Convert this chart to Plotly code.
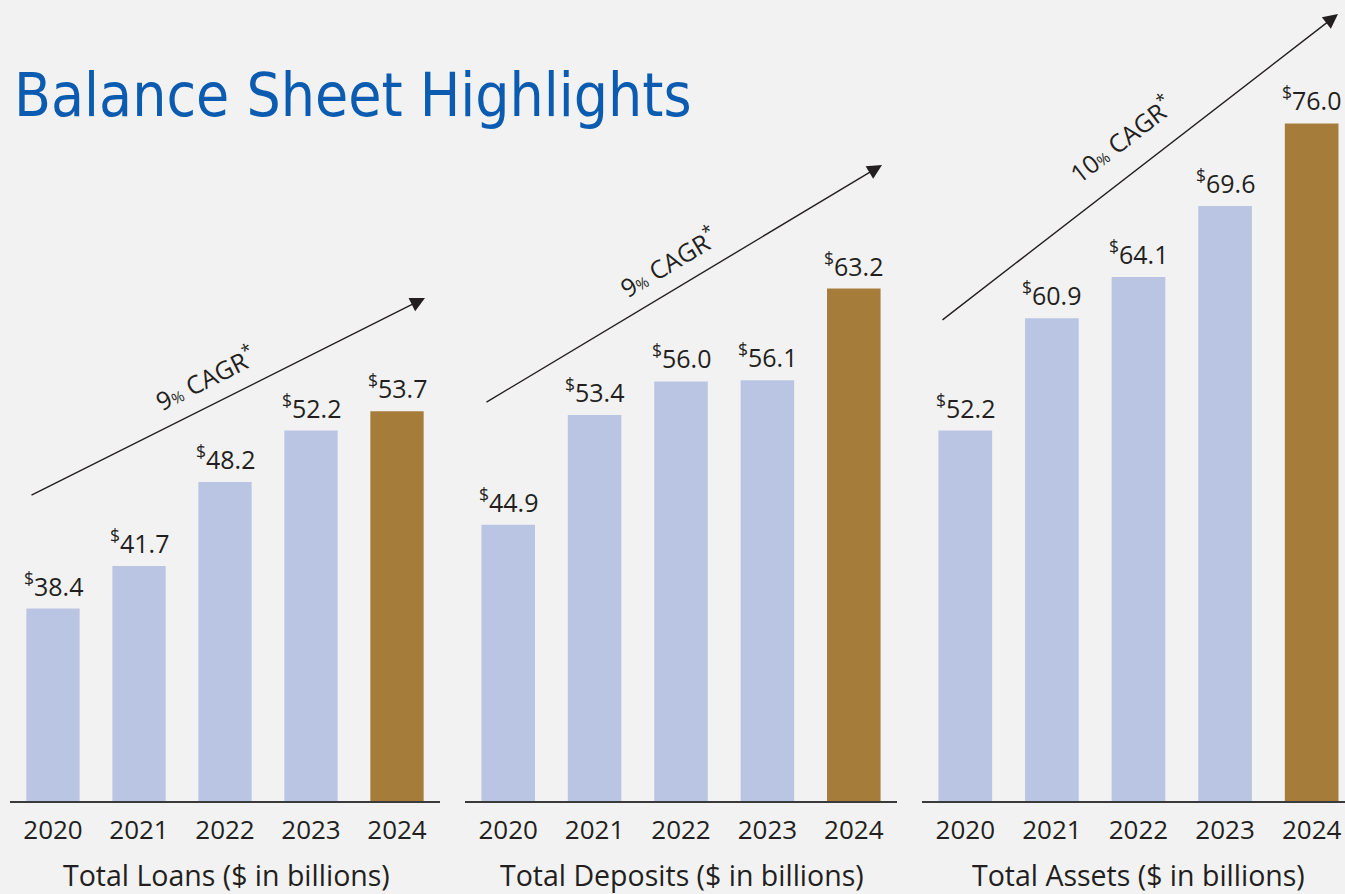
import plotly.graph_objects as go

# ---- data ----
years = ["2020", "2021", "2022", "2023", "2024"]
loans = [38.4, 41.7, 48.2, 52.2, 53.7]
deposits = [44.9, 53.4, 56.0, 56.1, 63.2]
assets = [52.2, 60.9, 64.1, 69.6, 76.0]
panel_titles = ["Total Loans ($ in billions)", "Total Deposits ($ in billions)", "Total Assets ($ in billions)"]
cagr_labels = ["9", "9", "10"]
title_text = "Balance Sheet Highlights"

W, H = 1345, 894
MB = 93
PH = H - MB
BG = "#f2f2f2"
LAV = "#bac5e3"
GOLD = "#a67c3b"
TXT = "#231f20"
BLUE = "#0b5cb0"
FONT = "'Open Sans', Lato, sans-serif"

def px(x):
    return x / W

def py(y):
    return (PH - y) / PH

series = [loans, deposits, assets]
domains = [(10, 440), (465, 897), (922, 1345)]
xranges = [[-0.5, 4.5], [-0.5, 4.5], [-0.5, 4.385]]
sub_centers = [226, 682, 1138]
colors = [LAV, LAV, LAV, LAV, GOLD]

fig = go.Figure()
annotations = []
for i, vals in enumerate(series):
    xa = "x" if i == 0 else f"x{i+1}"
    fig.add_trace(go.Bar(x=years, y=vals, xaxis=xa, yaxis="y",
                         marker=dict(color=colors, line=dict(width=0)),
                         hoverinfo="skip", showlegend=False))
    for k, v in enumerate(vals):
        annotations.append(dict(x=k, y=v, xref=xa, yref="y",
                                text=f"<sup>$</sup>{v:.1f}", showarrow=False,
                                xanchor="center", yanchor="bottom", yshift=4,
                                font=dict(family=FONT, size=25, color=TXT)))
    annotations.append(dict(x=px(sub_centers[i]), y=py(875),
                            xref="paper", yref="paper", text=panel_titles[i],
                            showarrow=False, xanchor="center", yanchor="middle",
                            font=dict(family=FONT, size=28.5, color=TXT)))

# arrows (pixel positions of start/end)
arrows = [((30, 496), (425, 298)), ((485, 403), (882, 165)), ((941, 321), (1338, 14))]
labels_pos = [(205, 377, -26.6), (668, 261, -30.9), (1121, 139, -37.7)]
for (s, e), (lx, ly, ang), c in zip(arrows, labels_pos, cagr_labels):
    annotations.append(dict(x=px(e[0]), y=py(e[1]), xref="paper", yref="paper",
                            ax=s[0] - e[0], ay=s[1] - e[1], text="", showarrow=True,
                            arrowhead=2, arrowsize=2.1, arrowwidth=1.4, arrowcolor=TXT))
    annotations.append(dict(x=px(lx), y=py(ly), xref="paper", yref="paper",
                            text=f"{c}<span style='font-size:15px;color:{TXT}'>%</span> CAGR<sup>*</sup>",
                            textangle=ang, showarrow=False,
                            xanchor="center", yanchor="middle",
                            font=dict(family=FONT, size=25, color=TXT)))

annotations.append(dict(x=px(12), y=py(95), xref="paper", yref="paper",
                        text=title_text, showarrow=False, xanchor="left", yanchor="middle",
                        font=dict(family="'Liberation Sans Narrow', 'DejaVu Sans Condensed', sans-serif",
                                  size=60, color=BLUE)))

layout = dict(
    width=W, height=H,
    paper_bgcolor=BG, plot_bgcolor=BG,
    margin=dict(l=0, r=0, t=0, b=MB),
    bargap=0.38,
    yaxis=dict(range=[23.48, 23.48 + PH / 12.9], visible=False, fixedrange=True),
    annotations=annotations,
)
for i in range(3):
    d0, d1 = domains[i]
    key = "xaxis" if i == 0 else f"xaxis{i+1}"
    layout[key] = dict(domain=[px(d0), px(d1)], type="category", range=xranges[i],
                       anchor="y", showline=True, linecolor="#3a3a3a", linewidth=1.5,
                       showgrid=False, zeroline=False, ticks="",
                       tickfont=dict(family=FONT, size=26, color=TXT),
                       ticklabelstandoff=5, fixedrange=True)
fig.update_layout(**layout)
fig.write_html("out.html", config={"displayModeBar": False},
               post_script="document.body.style.margin='0';document.body.style.background='%s';" % BG)
